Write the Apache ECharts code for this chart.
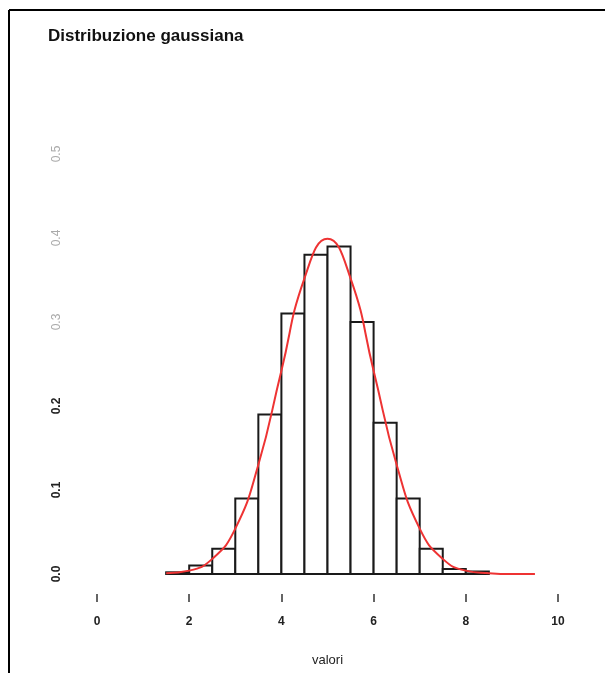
<!DOCTYPE html>
<html>
<head>
<meta charset="utf-8">
<script src="https://cdn.jsdelivr.net/npm/echarts@6/dist/echarts.min.js"></script>
<style>
  html, body { margin: 0; padding: 0; background: #fff; }
  #main { width: 605px; height: 673px; }
</style>
</head>
<body>
<div id="main"></div>
<script>
// istogramma: bordi delle classi e densita'
const binLeft = [1.5, 2.0, 2.5, 3.0, 3.5, 4.0, 4.5, 5.0, 5.5, 6.0, 6.5, 7.0, 7.5, 8.0];
const binRight = [2.0, 2.5, 3.0, 3.5, 4.0, 4.5, 5.0, 5.5, 6.0, 6.5, 7.0, 7.5, 8.0, 8.5];
const binDensity = [0.002, 0.01, 0.03, 0.09, 0.19, 0.31, 0.38, 0.39, 0.30, 0.18, 0.09, 0.03, 0.006, 0.003];

// curva di densita'
const curveX = [1.5, 2.0, 2.5, 3.0, 3.5, 4.0, 4.5, 5.0, 5.5, 6.0, 6.5, 7.0, 7.5, 8.0, 8.5, 9.0, 9.5];
const curveY = [0.001, 0.004, 0.018, 0.054, 0.13, 0.242, 0.352, 0.399, 0.352, 0.242, 0.13, 0.054, 0.018, 0.004, 0.001, 0.0, 0.0];

const xTicks = [0, 2, 4, 6, 8, 10];
const yTicks = [0, 0.1, 0.2, 0.3, 0.4, 0.5];

const chartDom = document.getElementById('main');
const myChart = echarts.init(chartDom);

const histData = binLeft.map(function (x0, i) {
    return [x0, binRight[i], binDensity[i]];
});
const curveData = curveX.map(function (x, i) {
    return [x, curveY[i]];
});

let option = {
    animation: false,
    backgroundColor: '#fff',
    title: {
        text: 'Distribuzione gaussiana',
        left: 43,
        top: 23,
        textStyle: {
            fontSize: 17,
            fontWeight: 'bold',
            color: '#111',
            fontFamily: 'Liberation Sans'
        }
    },
    grid: {
        left: 97,
        right: 47,
        top: 154,
        bottom: 99
    },
    xAxis: {
        type: 'value',
        min: xTicks[0],
        max: xTicks[xTicks.length - 1],
        interval: 2,
        offset: 20,
        name: 'valori',
        nameLocation: 'middle',
        nameGap: 60,
        nameTextStyle: {fontSize: 13, color: '#222', fontFamily: 'Liberation Sans'},
        axisLine: {show: false, onZero: false},
        axisTick: {show: true, length: 8, lineStyle: {color: '#333', width: 1.5}},
        axisLabel: {
            margin: 22,
            fontSize: 12,
            fontWeight: 'bold',
            color: '#222',
            fontFamily: 'Liberation Sans'
        },
        splitLine: {show: false}
    },
    yAxis: {
        type: 'value',
        min: yTicks[0],
        max: yTicks[yTicks.length - 1],
        interval: 0.1,
        axisLine: {show: false},
        axisTick: {show: false},
        splitLine: {show: false},
        axisLabel: {
            rotate: 90,
            margin: 34,
            fontSize: 12,
            fontFamily: 'Liberation Sans',
            formatter: function (v) {
                // le etichette alte appaiono sbiadite nell'originale
                return v >= 0.25 ? '{pale|' + v.toFixed(1) + '}' : '{dark|' + v.toFixed(1) + '}';
            },
            rich: {
                dark: {fontSize: 12, fontWeight: 'bold', color: '#222', fontFamily: 'Liberation Sans'},
                pale: {fontSize: 12, color: '#aaa', fontFamily: 'Liberation Sans'}
            }
        }
    },
    graphic: [
        {type: 'line', shape: {x1: 9, y1: 10, x2: 605, y2: 10}, style: {stroke: '#000', lineWidth: 2}},
        {type: 'line', shape: {x1: 9, y1: 10, x2: 9, y2: 673}, style: {stroke: '#000', lineWidth: 2}}
    ],
    series: [
        {
            name: 'istogramma',
            type: 'custom',
            renderItem: function (params, api) {
                const p0 = api.coord([api.value(0), 0]);
                const p1 = api.coord([api.value(1), api.value(2)]);
                return {
                    type: 'rect',
                    shape: {x: p0[0], y: p1[1], width: p1[0] - p0[0], height: p0[1] - p1[1]},
                    style: {fill: '#fff', stroke: '#1a1a1a', lineWidth: 2}
                };
            },
            encode: {x: [0, 1], y: 2},
            data: histData,
            z: 2
        },
        {
            name: 'densita',
            type: 'line',
            smooth: true,
            showSymbol: false,
            lineStyle: {color: '#ee3333', width: 2},
            data: curveData,
            z: 3
        }
    ]
};

myChart.setOption(option);
</script>
</body>
</html>
